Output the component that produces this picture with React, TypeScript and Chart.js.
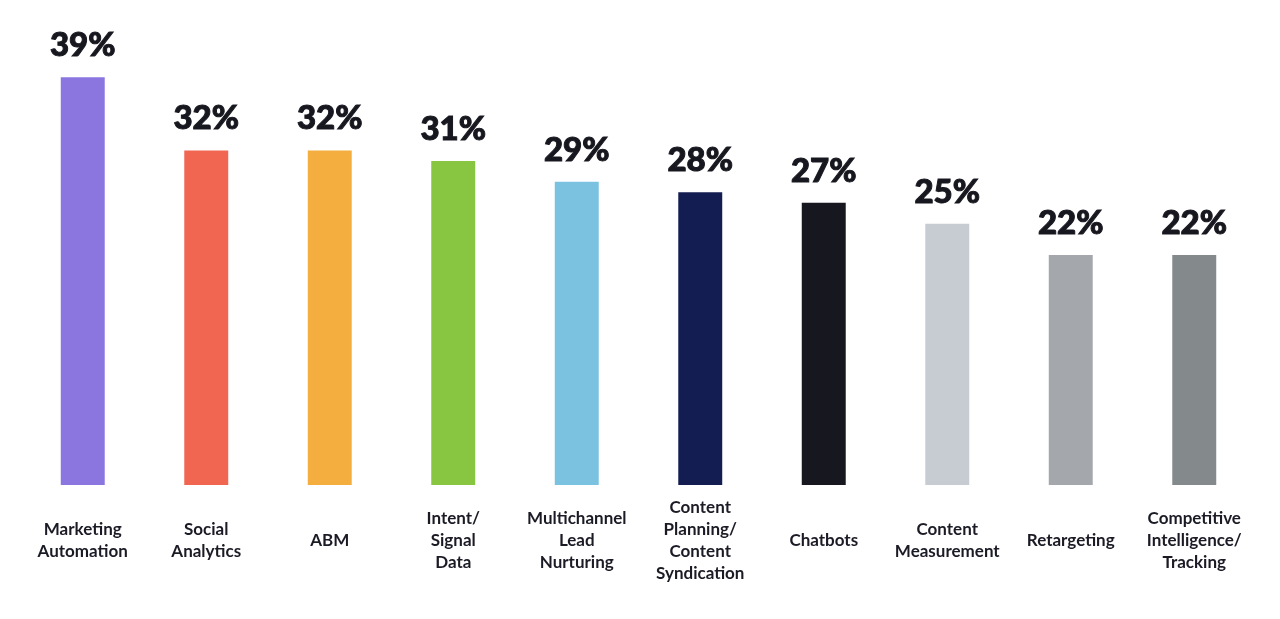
import React, { useEffect, useRef } from "react";
import { Chart, registerables } from "chart.js";

Chart.register(...registerables);

const categories: string[][] = [
  ["Marketing", "Automation"],
  ["Social", "Analytics"],
  ["ABM"],
  ["Intent/", "Signal", "Data"],
  ["Multichannel", "Lead", "Nurturing"],
  ["Content", "Planning/", "Content", "Syndication"],
  ["Chatbots"],
  ["Content", "Measurement"],
  ["Retargeting"],
  ["Competitive", "Intelligence/", "Tracking"],
];

const values: number[] = [39, 32, 32, 31, 29, 28, 27, 25, 22, 22];

const barColors: string[] = [
  "#8B76E0",
  "#F06651",
  "#F4AE3F",
  "#88C541",
  "#7BC2E1",
  "#141D51",
  "#17171F",
  "#C7CBD2",
  "#A4A8AD",
  "#848A8B",
];

const valueLabelPlugin = {
  id: "valueLabels",
  afterDatasetsDraw(chart: any) {
    const ctx = chart.ctx;
    const meta = chart.getDatasetMeta(0);
    ctx.save();
    ctx.font = "900 33px Lato, 'DejaVu Sans', sans-serif";
    ctx.fillStyle = "#17171F";
    ctx.strokeStyle = "#17171F";
    ctx.lineWidth = 1;
    ctx.textAlign = "center";
    ctx.textBaseline = "alphabetic";
    meta.data.forEach((bar: any, i: number) => {
      const t = values[i] + "%";
      ctx.fillText(t, bar.x, bar.y - 21);
      ctx.strokeText(t, bar.x, bar.y - 21);
    });
    ctx.restore();
  },
};

export default function App() {
  const ref = useRef<HTMLCanvasElement | null>(null);

  useEffect(() => {
    document.body.style.margin = "0";
    const canvas = ref.current;
    if (!canvas) return;
    const chart = new Chart(canvas, {
      type: "bar",
      data: {
        labels: categories,
        datasets: [
          {
            data: values,
            backgroundColor: barColors,
            barPercentage: 0.356,
            categoryPercentage: 1,
          },
        ],
      },
      options: {
        responsive: false,
        animation: false,
        layout: { padding: { left: 21, right: 24, top: 25, bottom: 8 } },
        plugins: {
          legend: { display: false },
          tooltip: { enabled: false },
        },
        scales: {
          x: {
            grid: { display: false },
            border: { display: false },
            ticks: {
              color: "#1B1B26",
              font: { family: "Lato, 'DejaVu Sans', sans-serif", size: 17, weight: "bold", lineHeight: 22 / 17 },
              padding: 15,
              maxRotation: 0,
              autoSkip: false,
              crossAlign: "center",
            },
          },
          y: {
            display: false,
            min: 0,
            max: 44,
          },
        },
      },
      plugins: [valueLabelPlugin],
    });
    return () => chart.destroy();
  }, []);

  return (
    <div style={{ width: 1280, height: 619 }}>
      <canvas ref={ref} width={1280} height={619} style={{ display: "block" }} />
    </div>
  );
}
